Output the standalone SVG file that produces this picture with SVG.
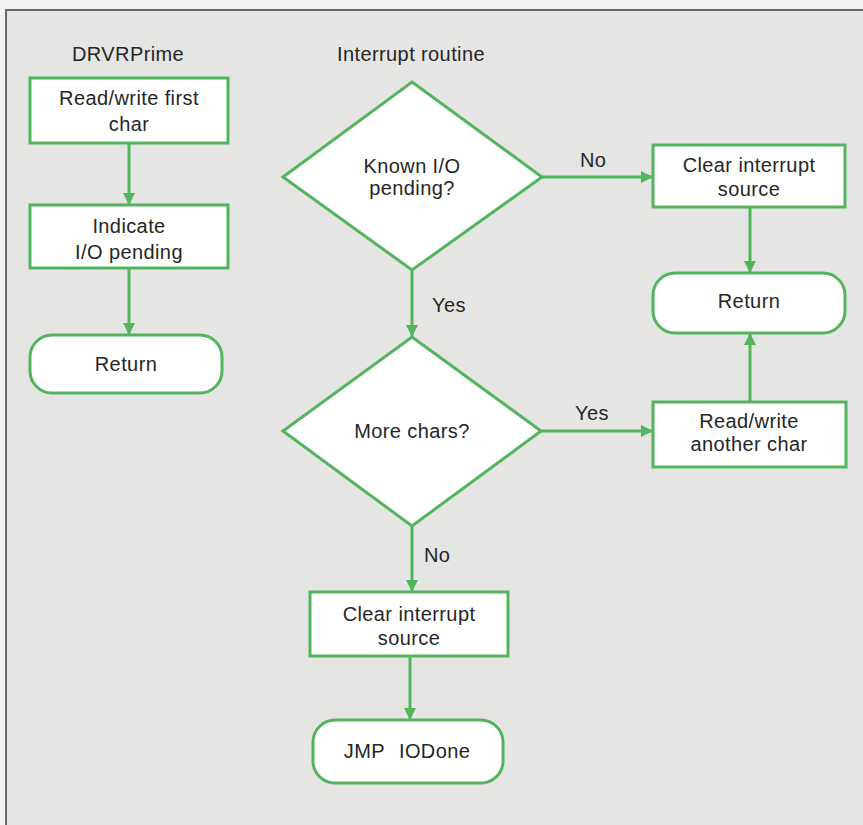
<svg xmlns="http://www.w3.org/2000/svg" width="863" height="825" viewBox="0 0 863 825">
<style>
.bg{fill:#e5e5e4}
.frame{stroke:#6a6a6a;stroke-width:2;fill:none}
.node{fill:#ffffff;stroke:#54b45e;stroke-width:3}
.edge{stroke:#54b45e;stroke-width:3;fill:none}
text{font-family:"Liberation Sans",Arial,sans-serif;font-size:20px;fill:#262626;letter-spacing:0.4px}
.c{text-anchor:middle}
</style>
<defs>
<marker id="ah" viewBox="0 0 12 12" refX="12" refY="6" markerWidth="12" markerHeight="12" markerUnits="userSpaceOnUse" orient="auto">
<path d="M0,0 L12,6 L0,12 Z" fill="#54b45e"/>
</marker>
</defs>
<rect x="0" y="0" width="863" height="825" fill="#f2f2f2"/>
<rect class="bg" x="6" y="10" width="857" height="815"/>
<path class="frame" d="M6,825 V10 H863"/>

<g id="labels">
<text x="72" y="61">DRVRPrime</text>
<text class="c" x="411" y="61">Interrupt routine</text>
</g>

<g id="connectors">
<line class="edge" x1="129" y1="143" x2="129" y2="205" marker-end="url(#ah)"/>
<line class="edge" x1="129" y1="268" x2="129" y2="335" marker-end="url(#ah)"/>
<line class="edge" x1="412" y1="270" x2="412" y2="337" marker-end="url(#ah)"/>
<line class="edge" x1="542" y1="177" x2="653" y2="177" marker-end="url(#ah)"/>
<line class="edge" x1="750" y1="207" x2="750" y2="273" marker-end="url(#ah)"/>
<line class="edge" x1="750" y1="402" x2="750" y2="333" marker-end="url(#ah)"/>
<line class="edge" x1="541" y1="431" x2="653" y2="431" marker-end="url(#ah)"/>
<line class="edge" x1="412" y1="526" x2="412" y2="592" marker-end="url(#ah)"/>
<line class="edge" x1="410" y1="656" x2="410" y2="720" marker-end="url(#ah)"/>
<text x="432" y="312">Yes</text>
<text x="580" y="167">No</text>
<text x="575" y="420">Yes</text>
<text x="424" y="562">No</text>
</g>

<g id="readFirst">
<rect class="node" x="30" y="78" width="198" height="65"/>
<text class="c" x="129" y="105">Read/write first</text>
<text class="c" x="129" y="131">char</text>
</g>
<g id="indicate">
<rect class="node" x="30" y="205" width="198" height="63"/>
<text class="c" x="129" y="233">Indicate</text>
<text class="c" x="129" y="259">I/O pending</text>
</g>
<g id="return1">
<rect class="node" x="30" y="335" width="192" height="58" rx="22"/>
<text class="c" x="126" y="371">Return</text>
</g>

<g id="knownIO">
<polygon class="node" points="412,82 542,177 412,270 283,177"/>
<text class="c" x="412" y="173">Known I/O</text>
<text class="c" x="412" y="195">pending?</text>
</g>
<g id="moreChars">
<polygon class="node" points="412,337 541,431 412,526 283,431"/>
<text class="c" x="412" y="438">More chars?</text>
</g>
<g id="clearBottom">
<rect class="node" x="310" y="592" width="198" height="64"/>
<text class="c" x="409" y="621">Clear interrupt</text>
<text class="c" x="409" y="645">source</text>
</g>
<g id="jmpIODone">
<rect class="node" x="313" y="720" width="190" height="63" rx="22"/>
<text class="c" x="407" y="758">JMP<tspan dx="14">IODone</tspan></text>
</g>

<g id="clearRight">
<rect class="node" x="653" y="145" width="192" height="62"/>
<text class="c" x="749" y="172">Clear interrupt</text>
<text class="c" x="749" y="196">source</text>
</g>
<g id="return2">
<rect class="node" x="653" y="273" width="192" height="60" rx="22"/>
<text class="c" x="749" y="308">Return</text>
</g>
<g id="readAnother">
<rect class="node" x="653" y="402" width="193" height="65"/>
<text class="c" x="749" y="428">Read/write</text>
<text class="c" x="749" y="451">another char</text>
</g>
</svg>
